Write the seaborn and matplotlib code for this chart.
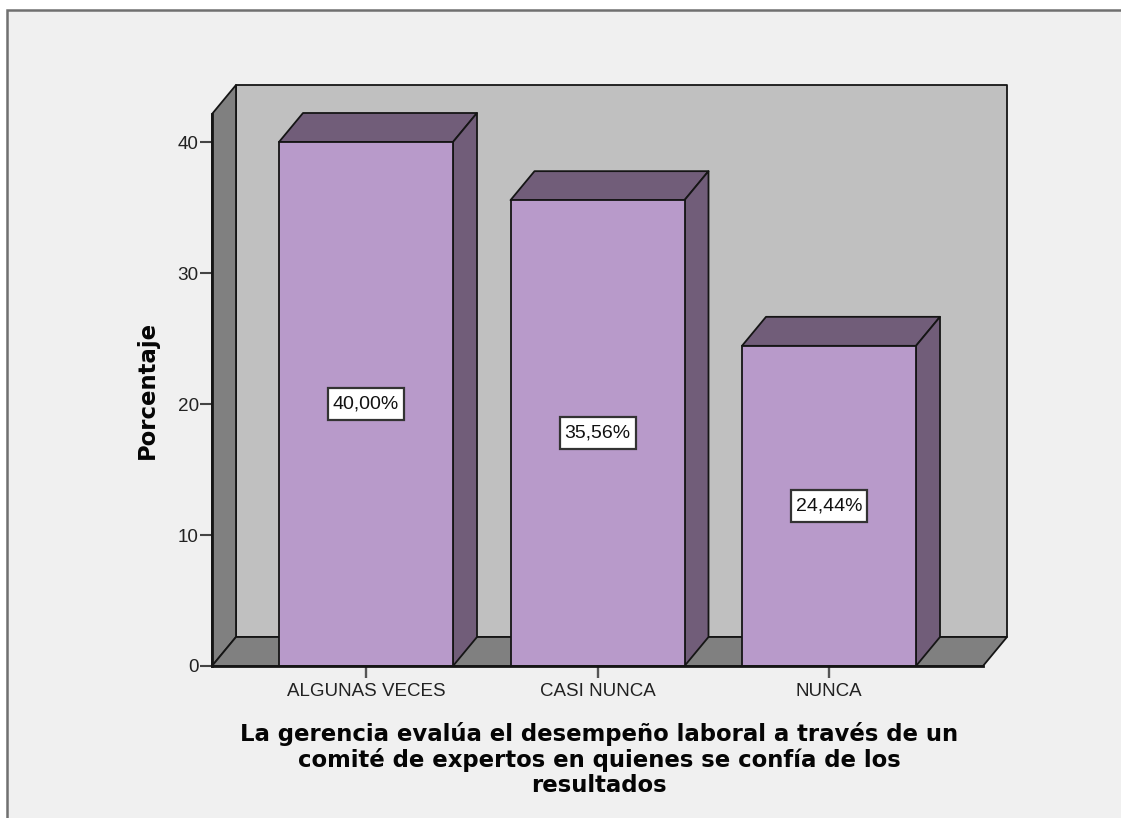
import matplotlib
matplotlib.use("Agg")
import matplotlib.pyplot as plt
from matplotlib.patches import Polygon, Rectangle
import pandas as pd
import seaborn as sns

categories = ["ALGUNAS VECES", "CASI NUNCA", "NUNCA"]
values = [40.00, 35.56, 24.44]
y_ticks = [0, 10, 20, 30, 40]
x_title = "La gerencia evalúa el desempeño laboral a través de un\ncomité de expertos en quienes se confía de los\nresultados"
y_title = "Porcentaje"

W, H = 1121, 818
BG, WALL, FLOOR = "#f0f0f0", "#c0c0c0", "#808080"
FRONT, SHADE = "#b89aca", "#715d79"
EDGE = "#151515"

# pixel geometry of the chart box
L, R, B, T = 212, 1007, 666, 85
PX_Y = 40 / (666 - 142)        # data units per vertical pixel
PX_X = 1 / 231.5               # category units per horizontal pixel
DX, DY = 24 * PX_X, 29 * PX_Y  # depth of the pseudo 3D effect
LW = 1.3

sns.set_theme(style="white", rc={"font.family": ["Liberation Sans", "DejaVu Sans"]})
fig = plt.figure(figsize=(W / 100, H / 100), dpi=100, facecolor="white")
ax = fig.add_axes([L / W, 1 - B / H, (R - L) / W, (B - T) / H])
ax.patch.set_visible(False)

# outer frame of the chart area
fig.add_artist(Rectangle((6.5 / W, -0.1), 1.2, 0.1 + 1 - 10.5 / H, transform=fig.transFigure,
                         facecolor=BG, edgecolor="#707070", linewidth=1.8, zorder=-1))

df = pd.DataFrame({"cat": categories, "pct": values})
sns.barplot(data=df, x="cat", y="pct", ax=ax, width=174 / 231.5, color=FRONT, saturation=1,
            edgecolor=EDGE, linewidth=LW, zorder=5)

x0 = -154 * PX_X
x1 = x0 + (R - L - 24) * PX_X
ytop = (B - 114) * PX_Y
ax.set_xlim(x0, x0 + (R - L) * PX_X)
ax.set_ylim(0, (B - T) * PX_Y)


def face(pts, color, z):
    ax.add_patch(Polygon(pts, closed=True, facecolor=color, edgecolor=EDGE, linewidth=LW,
                         joinstyle="round", zorder=z, clip_on=False))


# walls and floor
face([(x0 + DX, DY), (x1 + DX, DY), (x1 + DX, ytop + DY), (x0 + DX, ytop + DY)], WALL, 1)
face([(x0, 0), (x0 + DX, DY), (x0 + DX, ytop + DY), (x0, ytop)], FLOOR, 2)
face([(x0, 0), (x1, 0), (x1 + DX, DY), (x0 + DX, DY)], FLOOR, 2)

# top and side of every bar, with its value label
for bar, v in zip(list(ax.patches)[:len(values)], values):
    a, w = bar.get_x(), bar.get_width()
    face([(a, v), (a + w, v), (a + w + DX, v + DY), (a + DX, v + DY)], SHADE, 4)
    face([(a + w, 0), (a + w + DX, DY), (a + w + DX, v + DY), (a + w, v)], SHADE, 4)
    cx, cy = a + w / 2, v / 2
    bw, bh = 76 * PX_X, 32 * PX_Y
    ax.add_patch(Rectangle((cx - bw / 2, cy - bh / 2), bw, bh, facecolor="white",
                           edgecolor="#333333", linewidth=1.6, zorder=6))
    ax.text(cx, cy, f"{v:.2f}%".replace(".", ","), ha="center", va="center",
            fontsize=14, color="#111111", zorder=7)

for s in ("top", "right"):
    ax.spines[s].set_visible(False)
ax.spines["left"].set_bounds(0, ytop)
ax.spines["bottom"].set_bounds(x0, x1)
for s in ("left", "bottom"):
    ax.spines[s].set_linewidth(2.0)
    ax.spines[s].set_color(EDGE)
    ax.spines[s].set_zorder(8)
ax.set_yticks(y_ticks)
ax.tick_params(axis="y", left=True, length=8.6, width=1.5, color="#444444", pad=1,
               labelsize=13.6, labelcolor="#222222")
ax.tick_params(axis="x", bottom=True, length=8.6, width=1.7, color="#555555", pad=3.5,
               labelsize=13.5, labelcolor="#222222")

ax.set_xlabel(x_title, fontsize=16.4, fontweight="bold", color="#050505", linespacing=1.1,
              ha="center", va="top", family=["DejaVu Sans"])
ax.xaxis.set_label_coords((599 - L) / (R - L), -(722 - B) / (B - T))
ax.set_ylabel(y_title, fontsize=16.4, fontweight="bold", color="#050505",
              family=["DejaVu Sans"])
ax.yaxis.set_label_coords(-(L - 159) / (R - L), (B - 390) / (B - T))

fig.savefig("out.png", dpi=100, facecolor="white")
